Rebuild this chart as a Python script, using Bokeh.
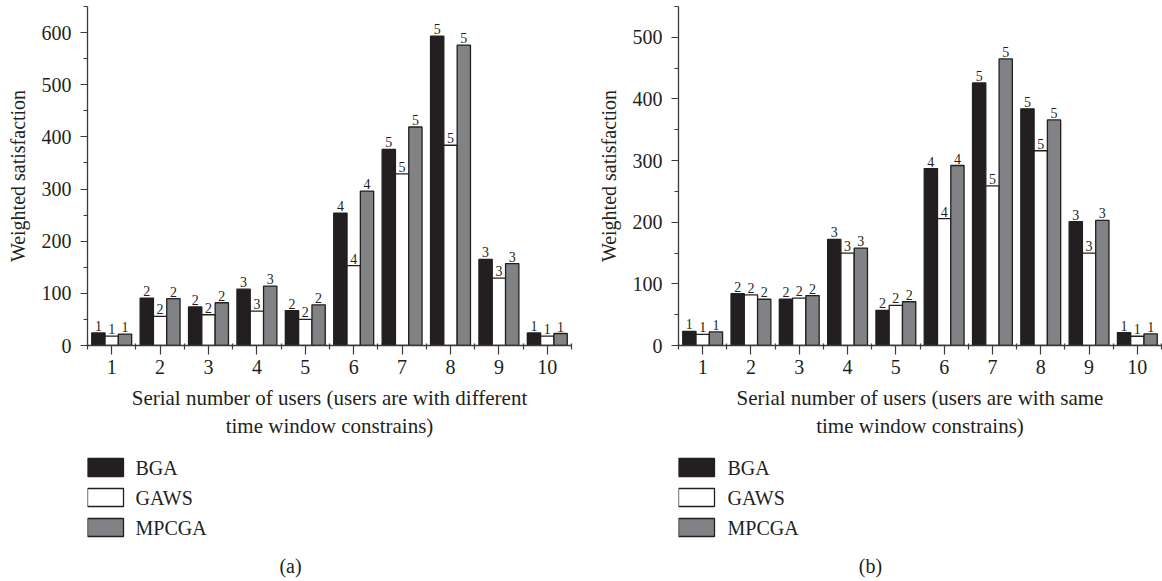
from bokeh.plotting import figure
from bokeh.models import ColumnDataSource, FixedTicker, Range1d
from bokeh.layouts import row, column
from bokeh.transform import dodge
from bokeh.core.properties import value
from bokeh.embed import file_html
from bokeh.resources import INLINE

# ---- data -------------------------------------------------------------
users = list(range(1, 11))
priority = [1, 2, 2, 3, 2, 4, 5, 5, 3, 1]          # level printed above each bar
series_names = ["BGA", "GAWS", "MPCGA"]
series_fill = ["#231f20", "#ffffff", "#808285"]

# (a) users with different time window constraints
bga_a = [24, 91, 74, 108, 67, 254, 376, 593, 165, 24]
gaws_a = [18, 56, 59, 66, 50, 153, 329, 384, 129, 18]
mpcga_a = [22, 90, 82, 114, 78, 296, 419, 576, 157, 23]

# (b) users with the same time window constraints
bga_b = [23, 84, 75, 172, 57, 287, 426, 384, 201, 21]
gaws_b = [18, 82, 77, 150, 65, 206, 259, 316, 150, 15]
mpcga_b = [22, 75, 81, 158, 71, 292, 465, 366, 203, 19]

y_ticks_a = [0, 100, 200, 300, 400, 500, 600]
y_ticks_b = [0, 100, 200, 300, 400, 500]

xlabel_a = "Serial number of users (users are with different\ntime window constrains)"
xlabel_b = "Serial number of users (users are with same\ntime window constrains)"
ylabel = "Weighted satisfaction"

# ---- styling ----------------------------------------------------------
FONT = "Liberation Serif"
INK = "#231f20"
AXIS = "#3b3b3b"
W = 581
CHART_H = 450
KEY_H = 581 - CHART_H
FRAME_TOP = 6
FRAME_H = 339
BAR_W = 0.275
OFFSETS = [-BAR_W, 0.0, BAR_W]
LABEL_GAP_PX = 7


def chart(b, g, m, y_end, y_ticks, xlabel, left, right):
    src = ColumnDataSource(dict(
        user=users, BGA=b, GAWS=g, MPCGA=m,
        level=[str(v) for v in priority],
    ))
    p = figure(
        width=W, height=CHART_H,
        x_range=Range1d(0.5, 10.5), y_range=Range1d(0, y_end),
        min_border_left=left, min_border_right=right,
        min_border_top=FRAME_TOP, min_border_bottom=CHART_H - FRAME_TOP - FRAME_H,
        toolbar_location=None, output_backend="svg",
        background_fill_color="white", border_fill_color="white",
    )
    p.outline_line_color = None
    p.grid.visible = False

    gap = LABEL_GAP_PX * y_end / FRAME_H      # label gap expressed in data units
    for name, fill, off in zip(series_names, series_fill, OFFSETS):
        p.vbar(x=dodge("user", off), top=name, bottom=0, width=BAR_W,
               source=src, fill_color=fill, line_color=INK, line_width=1.3)
        p.text(x=dodge("user", off), y=dodge(name, gap), text="level", source=src,
               text_font=value(FONT), text_font_size="14px", text_color=INK,
               text_align="center", text_baseline="alphabetic")

    minor_y = [v for v in range(50, y_end + 1, 100)]
    p.yaxis.ticker = FixedTicker(ticks=y_ticks, minor_ticks=minor_y)
    p.xaxis.ticker = FixedTicker(ticks=users,
                                 minor_ticks=[u - 0.5 for u in users] + [10.5])

    for ax in (p.xaxis[0], p.yaxis[0]):
        ax.axis_line_color = AXIS
        ax.axis_line_width = 1.3
        ax.major_tick_line_color = AXIS
        ax.minor_tick_line_color = AXIS
        ax.major_tick_line_width = 1.2
        ax.minor_tick_line_width = 1.2
        ax.major_tick_in = 0
        ax.major_label_text_font = FONT
        ax.major_label_text_font_size = "20px"
        ax.major_label_text_color = INK
        ax.axis_label_text_font = FONT
        ax.axis_label_text_font_style = "normal"
        ax.axis_label_text_color = INK

    p.yaxis.major_tick_out = 7
    p.yaxis.minor_tick_out = 4
    p.yaxis.minor_tick_in = 0
    p.yaxis.major_label_standoff = 9
    p.yaxis.axis_label = ylabel
    p.yaxis.axis_label_text_font_size = "20px"
    p.yaxis.axis_label_standoff = 10

    p.xaxis.major_tick_out = 9
    p.xaxis.minor_tick_out = 4
    p.xaxis.minor_tick_in = 2
    p.xaxis.major_label_standoff = 5
    p.xaxis.axis_label = xlabel
    p.xaxis.axis_label_text_font_size = "21px"
    p.xaxis.axis_label_standoff = 9
    p.xaxis.axis_label_text_line_height = 1.2
    return p


def key_panel(left, right, key_x, text_x, caption, caption_x):
    frame_w = W - left - right
    p = figure(
        width=W, height=KEY_H,
        x_range=Range1d(0, frame_w), y_range=Range1d(KEY_H, 0),
        x_axis_type=None, y_axis_type=None,
        min_border_left=left, min_border_right=right,
        min_border_top=0, min_border_bottom=0,
        toolbar_location=None, output_backend="svg",
    )
    p.outline_line_color = None
    rows = [17, 47, 77]
    p.rect(x=[key_x] * 3, y=rows, width=36, height=18,
           fill_color=series_fill, line_color=INK, line_width=1.3)
    p.text(x=[text_x] * 3, y=rows, text=series_names,
           text_font=value(FONT), text_font_size="20px", text_color=INK,
           text_baseline="middle", text_align="left")
    p.text(x=[caption_x], y=[115], text=[caption],
           text_font=value(FONT), text_font_size="20px", text_color=INK,
           text_baseline="middle", text_align="center")
    return p


pa = chart(bga_a, gaws_a, mpcga_a, 650, y_ticks_a, xlabel_a, 87, 10)
pb = chart(bga_b, gaws_b, mpcga_b, 550, y_ticks_b, xlabel_b, 97, 1)
ka = key_panel(87, 10, 18, 48, "(a)", 203)
kb = key_panel(97, 1, 18, 49, "(b)", 192)

layout = row(column(pa, ka), column(pb, kb))

open("out.html", "w").write(file_html(layout, INLINE))
